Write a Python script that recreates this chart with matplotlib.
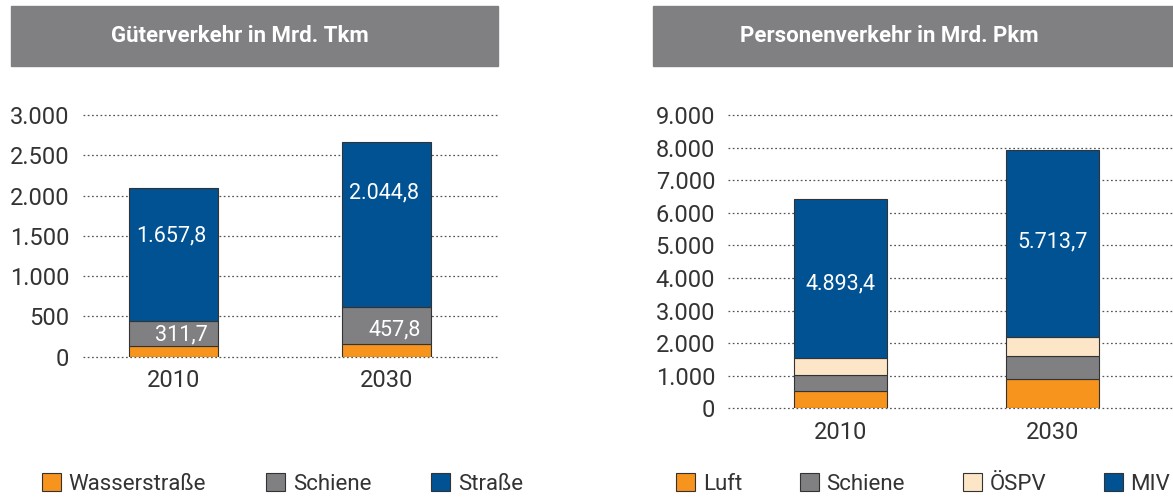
import matplotlib
matplotlib.use("Agg")
import matplotlib.pyplot as plt
from matplotlib.patches import Rectangle, Patch
import numpy as np

plt.rcParams['font.family'] = ['Roboto', 'DejaVu Sans']

years = ["2010", "2030"]

# Gueterverkehr (Mrd. Tkm)
freight_labels = ["Wasserstraße", "Schiene", "Straße"]
freight_wasser = [130.0, 160.0]
freight_schiene = [311.7, 457.8]
freight_strasse = [1657.8, 2044.8]

# Personenverkehr (Mrd. Pkm)
pass_labels = ["Luft", "Schiene", "ÖSPV", "MIV"]
pass_luft = [522.0, 890.0]
pass_schiene = [490.0, 705.0]
pass_oespv = [522.0, 602.0]
pass_miv = [4893.4, 5713.7]

orange = "#F7941D"
grey = "#808083"
cream = "#FDE5C8"
blue = "#005293"
text_col = "#333333"
edge = "#333333"
weight = "normal"


def fmt_de(v):
    s = "{:,.1f}".format(v)
    return s.replace(",", "X").replace(".", ",").replace("X", ".")


def fmt_tick(v, pos=None):
    return "{:,.0f}".format(v).replace(",", ".")


fig = plt.figure(figsize=(11.73, 4.97), dpi=100)
W, H = 1173.0, 497.0


def style_axis(ax, ymax, step, pad_y):
    ax.set_ylim(0, ymax)
    ax.set_yticks(np.arange(0, ymax + 1, step))
    ax.yaxis.set_major_formatter(plt.FuncFormatter(fmt_tick))
    for s in ax.spines.values():
        s.set_visible(False)
    ax.tick_params(axis="both", length=0, labelsize=17, labelcolor=text_col)
    ax.tick_params(axis="y", pad=pad_y)
    ax.tick_params(axis="x", pad=9)
    ax.set_xticks([0, 1])
    ax.set_xticklabels(years, fontweight=weight)
    for lab in ax.get_yticklabels():
        lab.set_fontweight(weight)
    ax.grid(axis="y", color="#555555", linestyle=(0, (1.4, 2.0)), linewidth=0.9)
    ax.set_axisbelow(True)
    for gl in ax.get_ygridlines():
        gl.set_clip_on(False)


def title_box(x0, x1, tx, text):
    fig.patches.append(Rectangle((x0 / W, 431 / H), (x1 - x0) / W, 60 / H,
                                 transform=fig.transFigure, color=grey, zorder=0))
    fig.text(tx / W, 461 / H, text, color="white", fontsize=16, fontweight="bold",
             ha="center", va="center")


# ---- left: Gueterverkehr
title_box(11, 498, 240, "Güterverkehr in Mrd. Tkm")
ax1 = fig.add_axes([83 / W, 140.3 / H, 416 / W, 241.7 / H])
x = np.arange(len(years))
bw = 0.418
b1 = np.array(freight_wasser)
b2 = b1 + np.array(freight_schiene)
ax1.bar(x, freight_wasser, bw, color=orange, edgecolor=edge, linewidth=0.8, zorder=3)
ax1.bar(x, freight_schiene, bw, bottom=b1, color=grey, edgecolor=edge, linewidth=0.8, zorder=3)
ax1.bar(x, freight_strasse, bw, bottom=b2, color=blue, edgecolor=edge, linewidth=0.8, zorder=3)
ax1.set_xlim(-0.425, 1.528)
style_axis(ax1, 3000, 500, 10)

strasse_label_y = [1499, 2037]
schiene_label_y = [270, 332]
for i in range(len(years)):
    ax1.text(x[i] - 0.01, strasse_label_y[i], fmt_de(freight_strasse[i]), color="white",
             fontsize=15.5, fontweight=weight, ha="center", va="center", zorder=4)
    ax1.text(x[i] + bw / 2 - 0.05, schiene_label_y[i], fmt_de(freight_schiene[i]), color="white",
             fontsize=15.5, fontweight=weight, ha="right", va="center", zorder=4)

h1 = [Patch(facecolor=c, edgecolor=edge, linewidth=0.8) for c in [orange, grey, blue]]
fig.legend(h1, freight_labels, loc="center left", bbox_to_anchor=(22 / W, 13 / H),
           ncol=3, frameon=False, handlelength=0.85, handleheight=0.85,
           handletextpad=0.35, columnspacing=2.7, labelcolor=text_col,
           prop={"weight": weight, "size": 16})

# ---- right: Personenverkehr
title_box(652.7, 1173, 889.5, "Personenverkehr in Mrd. Pkm")
ax2 = fig.add_axes([727.7 / W, 88.7 / H, 445.3 / W, 293.3 / H])
bw2 = 0.44
c1 = np.array(pass_luft)
c2 = c1 + np.array(pass_schiene)
c3 = c2 + np.array(pass_oespv)
ax2.bar(x, pass_luft, bw2, color=orange, edgecolor=edge, linewidth=0.8, zorder=3)
ax2.bar(x, pass_schiene, bw2, bottom=c1, color=grey, edgecolor=edge, linewidth=0.8, zorder=3)
ax2.bar(x, pass_oespv, bw2, bottom=c2, color=cream, edgecolor=edge, linewidth=0.8, zorder=3)
ax2.bar(x, pass_miv, bw2, bottom=c3, color=blue, edgecolor=edge, linewidth=0.8, zorder=3)
ax2.set_xlim(-0.535, 1.571)
style_axis(ax2, 9000, 1000, 9)

miv_label_y = [3806, 5113]
for i in range(len(years)):
    ax2.text(x[i], miv_label_y[i], fmt_de(pass_miv[i]), color="white",
             fontsize=15.5, fontweight=weight, ha="center", va="center", zorder=4)

h2 = [Patch(facecolor=c, edgecolor=edge, linewidth=0.8) for c in [orange, grey, cream, blue]]
fig.legend(h2, pass_labels, loc="center left", bbox_to_anchor=(656 / W, 13 / H),
           ncol=4, frameon=False, handlelength=0.85, handleheight=0.85,
           handletextpad=0.35, columnspacing=2.6, labelcolor=text_col,
           prop={"weight": weight, "size": 16})

fig.savefig("out.png", dpi=100)
